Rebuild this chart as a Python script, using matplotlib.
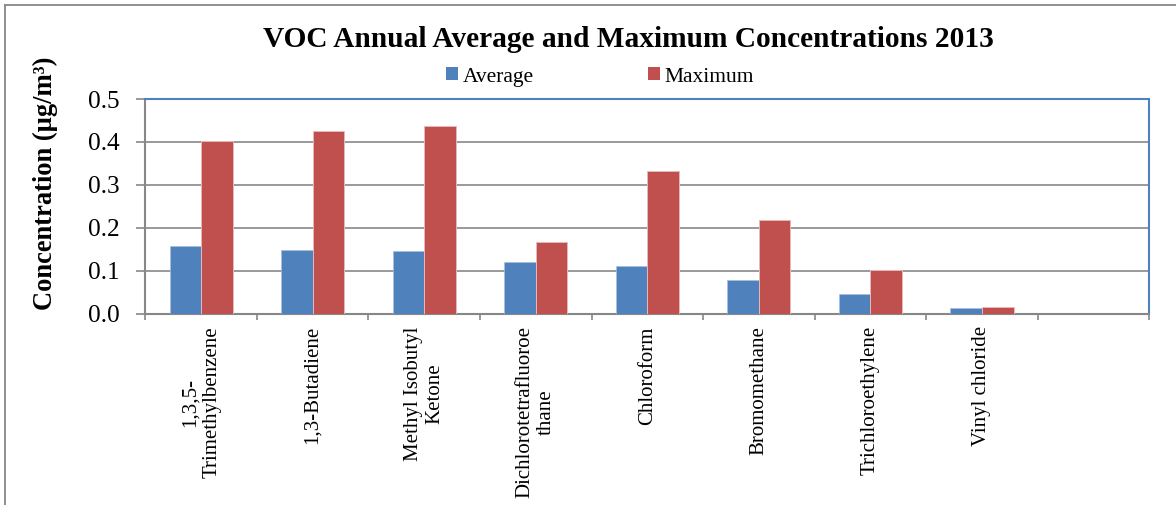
import numpy as np
import matplotlib
matplotlib.use("Agg")
import matplotlib.pyplot as plt
from matplotlib.lines import Line2D
from matplotlib.patches import Patch

categories = ["1,3,5-\nTrimethylbenzene", "1,3-Butadiene", "Methyl Isobutyl\nKetone",
              "Dichlorotetrafluoroe\nthane", "Chloroform", "Bromomethane",
              "Trichloroethylene", "Vinyl chloride", ""]
average = [0.158, 0.148, 0.145, 0.120, 0.110, 0.078, 0.046, 0.013, np.nan]
maximum = [0.403, 0.425, 0.438, 0.167, 0.332, 0.218, 0.102, 0.016, np.nan]
yticks = [0.0, 0.1, 0.2, 0.3, 0.4, 0.5]
ytick_labels = ["0.0", "0.1", "0.2", "0.3", "0.4", "0.5"]

BLUE = "#4F81BD"
RED = "#C0504D"
GRAY = "#878787"

plt.rcParams["font.family"] = ["Liberation Serif", "DejaVu Serif"]

fig = plt.figure(figsize=(11.76, 5.05), dpi=100)
ax = fig.add_axes([145.3 / 1176, 1 - 313.7 / 505, (1149.3 - 145.3) / 1176, (313.7 - 99) / 505])

x = np.arange(len(categories))
w = 0.283
ax.bar(x - w / 2, average, w, color=BLUE, edgecolor="#A7BFDE", linewidth=0.5, zorder=3, label="Average")
ax.bar(x + w / 2, maximum, w, color=RED, edgecolor="#E6B9B8", linewidth=0.7, zorder=3, label="Maximum")

ax.set_xlim(-0.5, len(categories) - 0.5)
ax.set_ylim(0, 0.5)
ax.set_yticks(yticks)
ax.set_yticklabels(ytick_labels, fontsize=18.2)
ax.yaxis.grid(True, color=GRAY, linewidth=1.2, zorder=0)
ax.set_axisbelow(True)

ax.set_xticks(np.arange(-0.5, len(categories), 1))
ax.set_xticklabels([])
ax.set_xticks(x, minor=True)
ax.set_xticklabels(categories, minor=True, rotation=90, fontsize=15,
                   ha="center", va="top", multialignment="center")
ax.tick_params(axis="x", which="minor", length=0, pad=9)
ax.tick_params(axis="x", which="major", length=4, width=1.2, color=GRAY, direction="out")
ax.tick_params(axis="y", length=6.2, width=1.2, color=GRAY, direction="out", pad=12)

for s in ["left", "bottom"]:
    ax.spines[s].set_color(GRAY)
    ax.spines[s].set_linewidth(1.5)
for s in ["top", "right"]:
    ax.spines[s].set_color(BLUE)
    ax.spines[s].set_linewidth(1.5)

fig.text(628 / 1176, 1 - 47 / 505, "VOC Annual Average and Maximum Concentrations 2013",
         ha="center", va="baseline", fontsize=21.2, fontweight="bold")
fig.text(45 / 1176, 1 - 183 / 505, "Concentration (µg/m³)", rotation=90,
         ha="center", va="center", fontsize=19.1, fontweight="bold")

handles = [Patch(facecolor=BLUE, label="Average"), Patch(facecolor=RED, label="Maximum")]
fig.legend(handles=handles, ncol=2, loc="center", bbox_to_anchor=(600 / 1176, 1 - 77 / 505),
           frameon=False, fontsize=15.5, handlelength=0.55, handleheight=0.55,
           handletextpad=0.2, columnspacing=5.3, borderpad=0)

fig.add_artist(Line2D([5 / 1176, 5 / 1176], [0, 1 - 5 / 505], transform=fig.transFigure,
                      color=GRAY, linewidth=1.3))
fig.add_artist(Line2D([5 / 1176, 1], [1 - 5 / 505, 1 - 5 / 505], transform=fig.transFigure,
                      color=GRAY, linewidth=1.3))

fig.savefig("out.png", dpi=100)
